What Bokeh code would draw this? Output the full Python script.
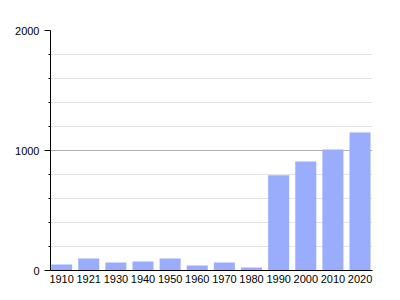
from bokeh.plotting import figure
from bokeh.models import FixedTicker, Range1d
from bokeh.embed import file_html
from bokeh.resources import INLINE

years = ["1910", "1921", "1930", "1940", "1950", "1960", "1970", "1980", "1990", "2000", "2010", "2020"]
population = [50, 100, 67, 75, 100, 42, 67, 25, 794, 908, 1008, 1150]

idx = list(range(len(years)))

p = figure(width=400, height=300, output_backend="svg", toolbar_location=None,
           x_range=Range1d(-0.41, 11.46), y_range=Range1d(0, 2000),
           min_border_left=50, min_border_right=28, min_border_top=30, min_border_bottom=30)
p.outline_line_color = None
p.background_fill_color = "white"
p.border_fill_color = "white"

p.vbar(x=idx, top=population, width=0.775, color="#9aadfc", line_color=None)

p.xgrid.grid_line_color = None
p.ygrid.grid_line_color = "#b0b0b0"
p.ygrid.minor_grid_line_color = "#e3e3e3"
p.ygrid.ticker = FixedTicker(ticks=[0, 1000, 2000], minor_ticks=[200, 400, 600, 800, 1200, 1400, 1600, 1800])

p.yaxis.ticker = FixedTicker(ticks=[0, 1000, 2000], minor_ticks=[200, 400, 600, 800, 1200, 1400, 1600, 1800])
p.yaxis.major_tick_out = 6
p.yaxis.major_tick_in = 0
p.yaxis.minor_tick_out = 2
p.yaxis.minor_tick_in = 0
p.yaxis.axis_line_color = "black"
p.yaxis.major_tick_line_color = "black"
p.yaxis.minor_tick_line_color = "black"
p.yaxis.major_label_text_font = "Liberation Sans"
p.yaxis.major_label_text_font_size = "11px"
p.yaxis.major_label_text_color = "black"
p.yaxis.major_label_standoff = 5

p.xaxis.ticker = FixedTicker(ticks=idx)
p.xaxis.major_label_overrides = {i: y for i, y in zip(idx, years)}
p.xaxis.major_tick_out = 0
p.xaxis.major_tick_in = 0
p.xaxis.minor_tick_line_color = None
p.xaxis.axis_line_color = "black"
p.xaxis.major_label_text_font = "Liberation Sans"
p.xaxis.major_label_text_font_size = "11px"
p.xaxis.major_label_text_color = "black"
p.xaxis.major_label_standoff = 4

open("out.html", "w").write(file_html(p, INLINE))
